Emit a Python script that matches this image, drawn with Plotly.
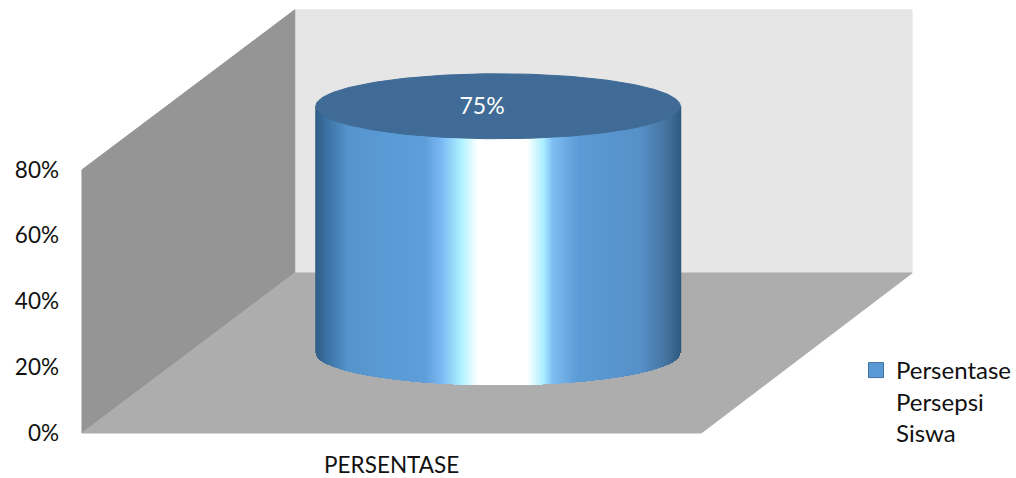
import numpy as np
import plotly.graph_objects as go

# Data
categories = ["PERSENTASE"]
values = [0.75]
series_name = "Persentase<br>Persepsi<br>Siswa"
value_labels = ["75%"]
tick_values = [0, 0.2, 0.4, 0.6, 0.8]
tick_labels = ["0%", "20%", "40%", "60%", "80%"]

FONT = "Lato, Carlito, Calibri, sans-serif"
W, H = 1016, 478
ML, MB = 60, 29

# Oblique projection of the 3D box, horizontal unit = px, vertical unit = value
PX_PER_VALUE = 329.0
Y0 = 433.0
FRONT_L, FRONT_R = 82.0, 702.0
BACK_R = 913.0
DX, DY = 213.0, 160.0
VMAX = 0.8


def px(x, depth=0.0):
    return x + depth * DX


def vy(v, depth=0.0):
    return v + depth * DY / PX_PER_VALUE


def poly(xs, ys, color, **kw):
    return go.Scatter(x=xs, y=ys, mode="lines", fill="toself", fillcolor=color,
                      line=dict(color=color, width=1), hoverinfo="skip",
                      showlegend=False, **kw)


fig = go.Figure()
# Back wall, left wall, floor
fig.add_trace(poly([px(FRONT_L, 1), BACK_R, BACK_R, px(FRONT_L, 1), px(FRONT_L, 1)],
                   [vy(0, 1), vy(0, 1), vy(VMAX, 1), vy(VMAX, 1), vy(0, 1)], "#e6e6e6"))
fig.add_trace(poly([FRONT_L, px(FRONT_L, 1), px(FRONT_L, 1), FRONT_L, FRONT_L],
                   [vy(0), vy(0, 1), vy(VMAX, 1), vy(VMAX), vy(0)], "#959595"))
fig.add_trace(poly([FRONT_L, FRONT_R, BACK_R, px(FRONT_L, 1), FRONT_L],
                   [vy(0), vy(0), vy(0, 1), vy(0, 1), vy(0)], "#adadad"))

# Cylinder (on overlaying axes so that it is drawn above the walls)
cx = px((FRONT_L + FRONT_R) / 2, 0.5)
rx = 182.5
ry = 32.5 / PX_PER_VALUE
v = values[0]
base = vy(0, 0.5)
top = vy(v, 0.5)

xs = np.arange(cx - rx, cx + rx + 0.5, 1.0)
ys = np.arange(base - ry - 1 / PX_PER_VALUE, top, 1.0 / PX_PER_VALUE)
frac = (xs - xs[0]) / (xs[-1] - xs[0])
X, Y = np.meshgrid(xs, ys)
Z = np.tile(frac, (len(ys), 1))
lower = base - ry * np.sqrt(np.clip(1 - ((X - cx) / rx) ** 2, 0, 1))
Z[Y < lower] = np.nan

stops = [(0.0, "#2f5c85"), (0.035, "#3d74a6"), (0.09, "#5593cb"), (0.2, "#5b9bd5"),
         (0.30, "#5f9fd9"), (0.345, "#79b8f2"), (0.40, "#aef2ff"), (0.445, "#ffffff"),
         (0.58, "#ffffff"), (0.625, "#a8eeff"), (0.65, "#7fbcf3"), (0.72, "#5b9bd5"),
         (0.89, "#5690c8"), (0.96, "#44739f"), (1.0, "#2f5a80")]
fig.add_trace(go.Heatmap(x=xs, y=ys, z=Z, zmin=0, zmax=1, colorscale=[list(s) for s in stops],
                         showscale=False, hoverinfo="skip", xaxis="x2", yaxis="y2"))

t = np.linspace(0, 2 * np.pi, 241)
fig.add_trace(poly(cx + rx * np.cos(t), top + ry * np.sin(t), "#3f6b96", xaxis="x2", yaxis="y2"))

# Value label
fig.add_trace(go.Scatter(x=[cx - 16], y=[top - 1.5 / PX_PER_VALUE], mode="text", text=value_labels,
                         textfont=dict(family=FONT, size=23, color="white"),
                         hoverinfo="skip", showlegend=False, xaxis="x2", yaxis="y2"))

# Legend entry
fig.add_trace(go.Scatter(x=[None], y=[None], mode="markers", name=series_name,
                         marker=dict(symbol="square", size=15, color="#5b9bd5",
                                     line=dict(color="#41719c", width=1))))

x_range = [ML, W]
y_range = [(Y0 - (H - MB)) / PX_PER_VALUE, Y0 / PX_PER_VALUE]
fig.update_layout(
    width=W, height=H,
    margin=dict(l=ML, r=0, t=0, b=MB, pad=0),
    paper_bgcolor="white", plot_bgcolor="white",
    font=dict(family=FONT, size=22.5, color="#111111"),
    showlegend=True,
    legend=dict(x=(857 - ML) / (W - ML), y=1 - (348 / (H - MB)), xanchor="left", yanchor="top",
                bgcolor="rgba(0,0,0,0)", valign="top", itemwidth=30, tracegroupgap=0,
                font=dict(family=FONT, size=24, color="#111111")),
    xaxis=dict(range=x_range, tickmode="array", automargin=False,
               tickvals=[(FRONT_L + FRONT_R) / 2], ticktext=categories,
               showgrid=False, zeroline=False, showline=False, ticks="", fixedrange=True),
    yaxis=dict(range=y_range, tickmode="array", automargin=False,
               tickvals=tick_values, ticktext=tick_labels,
               showgrid=False, zeroline=False, showline=False, ticks="", fixedrange=True),
    xaxis2=dict(range=x_range, overlaying="x", visible=False, fixedrange=True, automargin=False),
    yaxis2=dict(range=y_range, overlaying="y", visible=False, fixedrange=True, automargin=False),
)

fig.write_html("out.html", config={"displayModeBar": False},
               post_script="document.body.style.margin='0';document.body.style.overflow='hidden';")
